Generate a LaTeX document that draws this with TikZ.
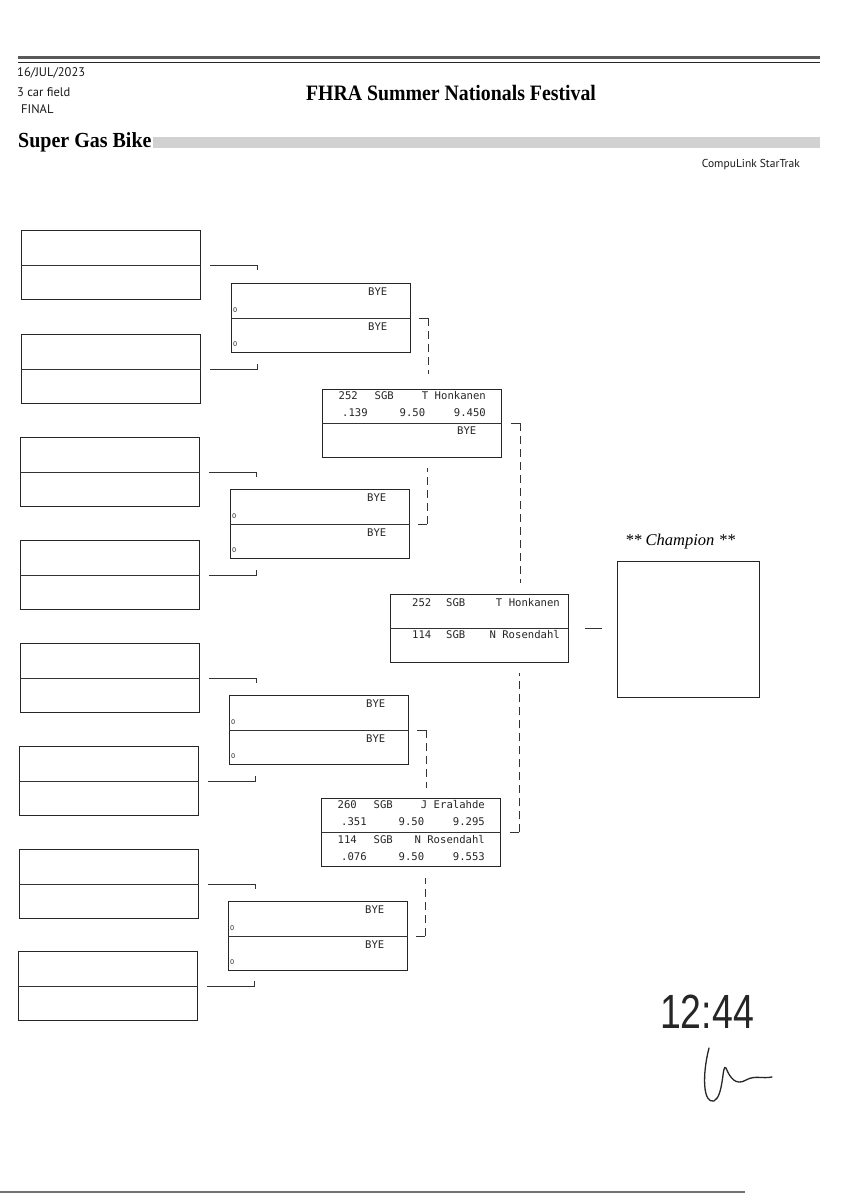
\documentclass[tikz,border=0pt]{standalone}
\usepackage{fontspec}
\setmainfont{Liberation Serif}
\newfontfamily\monof{DejaVu Sans Mono}
\newfontfamily\hdrf{PT Sans}
\newfontfamily\handf{Liberation Sans}
\newfontfamily\zerof{DejaVu Sans}
\usetikzlibrary{calc}
\tikzset{
  box/.style={draw=black!85, line width=0.95pt, rectangle, inner sep=0pt, anchor=north west, minimum width=179pt, minimum height=69pt},
  mono/.style={font=\monof\fontsize{10.6}{12}\selectfont, inner sep=0pt, text=black!85},
  zero/.style={font=\zerof\fontsize{6.5}{7}\selectfont, inner sep=0pt, anchor=west, text=black!85},
  conn/.style={draw=black!80, line width=0.8pt},
  dconn/.style={conn, dash pattern=on 8pt off 5pt},
  hdr/.style={font=\hdrf\fontsize{12.5}{14}\selectfont, inner sep=0pt, anchor=west, text=black!90},
}
\begin{document}
\begin{tikzpicture}[x=1pt,y=-1pt]
\useasboundingbox (0,0) rectangle (848,1200);
\fill[white] (0,0) rectangle (848,1200);

% header
\draw[line width=2.2pt, black!65] (18,57.5) -- (820,57.5);
\draw[line width=0.9pt, black!85] (18,62) -- (820,62);
\node[hdr] (date) at (17,73) {16/JUL/2023};
\node[hdr] (field) at (17,92) {3 car field};
\node[hdr] (finl) at (21,109) {FINAL};
\node[font=\bfseries\fontsize{22}{25}\selectfont, inner sep=0pt, xscale=0.9] (title) at (451,93) {FHRA Summer Nationals Festival};
\fill[black!18] (153,137) rectangle (820,148);
\node[anchor=west, font=\bfseries\fontsize{21.5}{24}\selectfont, inner sep=0pt, xscale=0.93] (cls) at (18,142) {Super Gas Bike};
\node[hdr, anchor=east, font=\hdrf\fontsize{11.5}{13}\selectfont] (ct) at (800,165) {CompuLink StarTrak};

% round 1
\foreach \n/\l/\t/\d in {r1a/21/230/1, r1b/21/334/-1, r1c/20/437/1, r1d/20/540/-1, r1e/20/643/1, r1f/19/746/-1, r1g/19/849/1, r1h/18/951/-1}{
  \node[box] (\n) at (\l,\t) {};
  \draw[conn] (\n.west) -- (\n.east);
  \draw[conn] ([xshift=9pt]\n.east) -- ++(47,0) -- ++(0,5*\d);
}

% round 2
\foreach \n/\l/\t/\d/\len in {r2a/231/283/1/56, r2b/230/489/-1/56, r2c/229/695/1/58, r2d/228/901/-1/58}{
  \node[box] (\n) at (\l,\t) {};
  \draw[conn] (\n.west) -- (\n.east);
  \node[mono, anchor=base west] (\n y1) at ([shift={(137,12.7)}]\n.north west) {BYE};
  \node[mono, anchor=base west] (\n y2) at ([shift={(137,47.7)}]\n.north west) {BYE};
  \node[zero] (\n z1) at ([shift={(2,27)}]\n.north west) {0};
  \node[zero] (\n z2) at ([shift={(2,61)}]\n.north west) {0};
  \draw[conn] ([xshift=8pt]\n.east) -- ++(9,0) coordinate (\n c);
  \draw[dconn] (\n c) -- ++(0,\d*\len);
}

% round 3
\node[box, minimum height=68pt] (r3a) at (322,389) {};
\draw[conn] (r3a.west) -- (r3a.east);
\node[mono, anchor=base west] (r3a1) at ([shift={(16.5,10.7)}]r3a.north west) {252};
\node[mono, anchor=base west] (r3a2) at ([shift={(52.5,10.7)}]r3a.north west) {SGB};
\node[mono, anchor=base east] (r3a3) at ([shift={(164,10.7)}]r3a.north west) {T Honkanen};
\node[mono, anchor=base west] (r3a4) at ([shift={(20,27.7)}]r3a.north west) {.139};
\node[mono, anchor=base west] (r3a5) at ([shift={(77.5,27.7)}]r3a.north west) {9.50};
\node[mono, anchor=base east] (r3a6) at ([shift={(164,27.7)}]r3a.north west) {9.450};
\node[mono, anchor=base west] (r3a7) at ([shift={(135,45.7)}]r3a.north west) {BYE};
\draw[conn] ([xshift=9pt]r3a.east) -- ++(9,0) coordinate (r3ac);
\draw[dconn] (r3ac) -- ++(0,160);

\node[box, minimum height=68pt] (r3b) at (321,798) {};
\draw[conn] (r3b.west) -- (r3b.east);
\node[mono, anchor=base west] (r3b1) at ([shift={(16.5,10.7)}]r3b.north west) {260};
\node[mono, anchor=base west] (r3b2) at ([shift={(52.5,10.7)}]r3b.north west) {SGB};
\node[mono, anchor=base east] (r3b3) at ([shift={(164,10.7)}]r3b.north west) {J Eralahde};
\node[mono, anchor=base west] (r3b4) at ([shift={(20,27.7)}]r3b.north west) {.351};
\node[mono, anchor=base west] (r3b5) at ([shift={(77.5,27.7)}]r3b.north west) {9.50};
\node[mono, anchor=base east] (r3b6) at ([shift={(164,27.7)}]r3b.north west) {9.295};
\node[mono, anchor=base west] (r3b7) at ([shift={(16.5,45.7)}]r3b.north west) {114};
\node[mono, anchor=base west] (r3b8) at ([shift={(52.5,45.7)}]r3b.north west) {SGB};
\node[mono, anchor=base east] (r3b9) at ([shift={(164,45.7)}]r3b.north west) {N Rosendahl};
\node[mono, anchor=base west] (r3b10) at ([shift={(20,62.7)}]r3b.north west) {.076};
\node[mono, anchor=base west] (r3b11) at ([shift={(77.5,62.7)}]r3b.north west) {9.50};
\node[mono, anchor=base east] (r3b12) at ([shift={(164,62.7)}]r3b.north west) {9.553};
\draw[conn] ([xshift=9pt]r3b.east) -- ++(9,0) coordinate (r3bc);
\draw[dconn] (r3bc) -- ++(0,-159);

% final
\node[box, minimum width=178pt, minimum height=68pt] (fbox) at (390,594) {};
\draw[conn] (fbox.west) -- (fbox.east);
\node[mono, anchor=base west] (f1) at ([shift={(22,12.7)}]fbox.north west) {252};
\node[mono, anchor=base west] (f2) at ([shift={(56,12.7)}]fbox.north west) {SGB};
\node[mono, anchor=base east] (f3) at ([shift={(170,12.7)}]fbox.north west) {T Honkanen};
\node[mono, anchor=base west] (f4) at ([shift={(22,44.7)}]fbox.north west) {114};
\node[mono, anchor=base west] (f5) at ([shift={(56,44.7)}]fbox.north west) {SGB};
\node[mono, anchor=base east] (f6) at ([shift={(170,44.7)}]fbox.north west) {N Rosendahl};

% champion
\node[box, minimum width=142pt, minimum height=136pt] (champ) at (617,561) {};
\node[font=\itshape\fontsize{16.5}{18}\selectfont, inner sep=0pt] (champl) at (680,542) {** Champion **};
\draw[conn] ([xshift=16pt]fbox.east) -- ($(fbox.east -| champ.west)+(-15,0)$);

% bottom rule
\draw[line width=1.4pt, black!55] (0,1192) -- (745,1192);

% handwriting
\node[font=\handf\fontsize{48}{52}\selectfont, xscale=0.78, text=black!85, inner sep=0pt] (time) at (707,1012) {12:44};
\draw[line width=1.3pt, black!85, line cap=round, line join=round]
  (709,1048) .. controls (702,1075) and (703,1104) .. (714,1101)
  .. controls (724,1096) and (722,1062) .. (726,1068)
  .. controls (730,1078) and (736,1086) .. (746,1080)
  .. controls (755,1075) and (762,1079) .. (772,1077);
\end{tikzpicture}
\end{document}
